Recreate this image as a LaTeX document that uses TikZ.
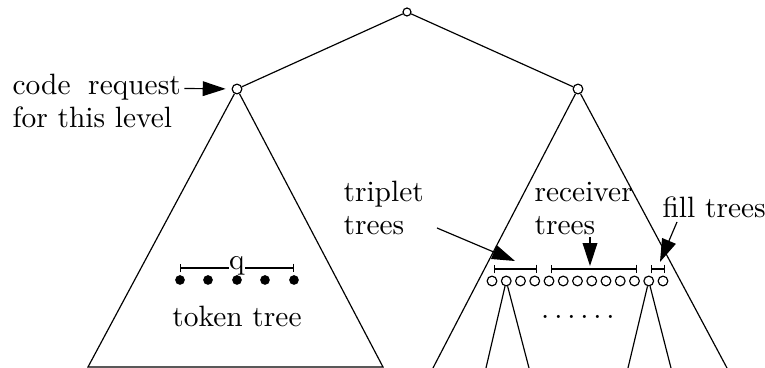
\documentclass[tikz,border=0pt]{standalone}
\usetikzlibrary{positioning}
\usetikzlibrary{arrows.meta}
\tikzset{
	knot/.style = {circle, draw, inner sep = 0pt, minimum size = 3.3pt},
	token/.style = {circle, fill, inner sep = 0pt, minimum size = 3.3pt},
	label/.style = {anchor = base west, inner sep = 0pt},
	pointer/.style = {-{Triangle[length = 7.8pt, width = 5pt]}},
	span/.style = {{Bar[width = 3pt]}-{Bar[width = 3pt]}}
}
\begin{document}
\begin{tikzpicture}[x = 0.34pt, y = -0.34pt]
					\useasboundingbox (0, 0) rectangle (765, 368);
					\node [knot, minimum size = 2.7pt] (root) at (407, 12) {};
					\node [knot] (lvl) at (237, 89) {};
					\node [knot] (rvl) at (578, 89) {};
					\draw (lvl) -- (root) -- (rvl);
					\coordinate (lbl) at (88, 367);
					\coordinate (lbr) at (383, 367);
					\draw (lvl) -- (lbl) -- (lbr) -- (lvl);
					\coordinate (rbl) at (433, 368);
					\coordinate (rbr) at (727, 368);
					\draw (rbl) -- (rvl) -- (rbr);
					\node [label] (req) at (12, 95) {code\hspace{6pt}request};
					\node [label] (lev) at (12, 128) {for this level};
					\draw [pointer, shorten < = 1pt, shorten > = 2pt] (req) -- (lvl);
					\foreach \i/\x in {1/180, 2/208, 3/237, 4/265, 5/294}
						\node [token] (t\i) at (\x, 280) {};
					\node [anchor = base, inner sep = 0pt] (q) at (237, 270) {q};
					\draw [{Bar[width = 3pt]}-] (180, 268) -- (q.west |- {(0, 268)});
					\draw [-{Bar[width = 3pt]}] (q.east |- {(0, 268)}) -- (294, 268);
					\node [anchor = base] (tok) at (237, 327) {token tree};
					\foreach \i in {1, ..., 13}
						\node [knot] (c\i) at ({492 + (\i - 1) * 14.25}, 281) {};
					\coordinate (s1l) at (486, 368);
					\coordinate (s1r) at (529, 368);
					\coordinate (s2l) at (628, 368);
					\coordinate (s2r) at (671, 368);
					\draw (s1l) -- (c2) -- (s1r);
					\draw (s2l) -- (c12) -- (s2r);
					\node [anchor = base] (more) at (578, 319) {$\ldots\ldots$};
					\draw [span] (494, 269) -- (537, 269);
					\draw [span] (551, 269) -- (637, 269);
					\draw [span] (651, 269) -- (665, 269);
					\node [label] (trip) at (343, 202) {triplet};
					\node [label] (tript) at (343, 235) {trees};
					\node [label] (recv) at (534, 202) {receiver};
					\node [label] (recvt) at (534, 235) {trees};
					\node [label] (fill) at (662, 218) {fill trees};
					\coordinate (tripa) at (437, 228);
					\coordinate (tripb) at (515, 261);
					\coordinate (recva) at (590, 237);
					\coordinate (recvb) at (590, 266);
					\coordinate (filla) at (677, 222);
					\coordinate (fillb) at (660, 262);
					\draw [pointer] (tripa) -- (tripb);
					\draw [pointer] (recva) -- (recvb);
					\draw [pointer] (filla) -- (fillb);
				\end{tikzpicture}
\end{document}
